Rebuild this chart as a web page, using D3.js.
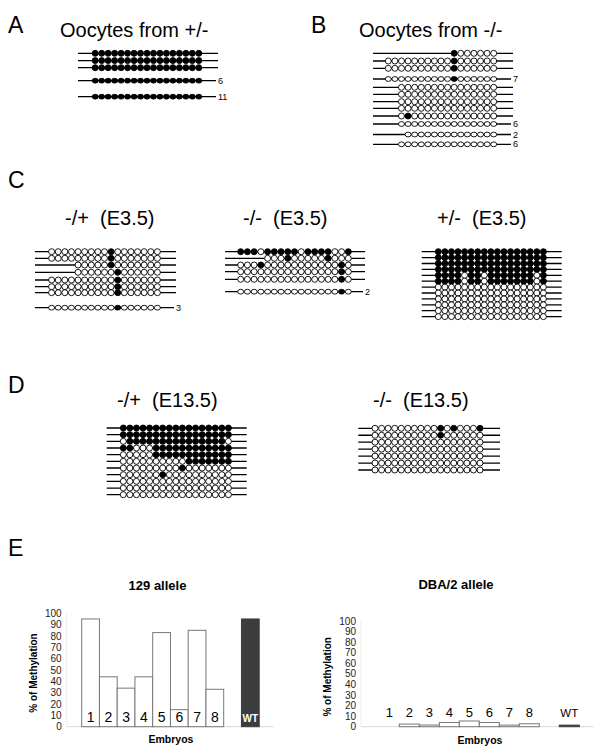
<!DOCTYPE html>
<html><head><meta charset="utf-8">
<script src="https://cdn.jsdelivr.net/npm/d3@7"></script>
<style>
body{margin:0;background:#fff}
svg{display:block}
text{font-family:"Liberation Sans",Arial,Helvetica,sans-serif}
</style>
</head><body>
<svg id="c" width="600" height="753"></svg>
<script>
// ---------------- DATA ----------------
const panelLetters = ["A", "B", "C", "D", "E"];
const panelTitles = ["Oocytes from +/-", "Oocytes from -/-", "-/+  (E3.5)", "-/-  (E3.5)", "+/-  (E3.5)", "-/+  (E13.5)", "-/-  (E13.5)"];

// '1' = methylated CpG, '0' = unmethylated CpG, '-' = not covered
const oocHetRows = [
  "11111111111111111",
  "11111111111111111",
  "11111111111111111",
  "11111111111111111",
  "11111111111111111"
];
const oocHetCounts = ["", "", "", "6", "11"];

const oocKoRows = [
  "----------1000000",
  "00000000001000000",
  "00000000001000000",
  "00000000001000000",
  "--000000000000000",
  "--000000000000000",
  "--000000000000000",
  "--000000000000000",
  "--010000000000000",
  "--000000000000000",
  "---00000000000000",
  "--000000000000000"
];
const oocKoCounts = ["", "", "", "7", "", "", "", "", "", "6", "2", "6"];

const e35MatRows = [
  "00000000010000000",
  "00000000010000000",
  "----0000010000000",
  "----0000001000000",
  "00000000001000000",
  "00000000001000000",
  "00000000001000000",
  "00000000001000000"
];
const e35MatCounts = ["", "", "", "", "", "", "", "3"];

const e35KoRows = [
  "11101111101111001",
  "----0001000001000",
  "00010000000000010",
  "00000000000000010",
  "00000000000000010",
  "00000000000000010"
];
const e35KoCounts = ["", "", "", "", "", "2"];

const e35PatRows = [
  "11111111111111111",
  "11111111111111111",
  "11111111111111111",
  "11111111111111111",
  "11110110111111101",
  "11110110111111101",
  "00000000000000000",
  "00000000000000000",
  "00000000000000000",
  "00000000000000000",
  "00000000000000000",
  "00000000000000000"
];
const e35PatCounts = ["", "", "", "", "", "", "", "", "", "", "", ""];

const e135MatRows = [
  "11111111111111111",
  "11111111111111111",
  "01111111111111110",
  "11000111111111111",
  "00000111111111111",
  "00000000001111111",
  "00000000010000000",
  "00000010000000000",
  "00000000000000000",
  "00000000000000000",
  "00000000000000000"
];
const e135MatCounts = ["", "", "", "", "", "", "", "", "", "", ""];

const e135KoRows = [
  "00000000001010001",
  "00000000001000000",
  "00000000000000000",
  "00000000000000000",
  "00000000000000000",
  "00000000000000000",
  "00000000000000000"
];
const e135KoCounts = ["", "", "", "", "", "", ""];

const embryos = ["1", "2", "3", "4", "5", "6", "7", "8", "WT"];
const methyl129 = [95, 44, 34, 44, 83, 15, 85, 33, 95];
const methylDBA = [0, 2.5, 1.6, 4, 5.4, 4, 1.5, 2.8, 1.5];
const yTickValues = [0, 10, 20, 30, 40, 50, 60, 70, 80, 90, 100];
const chartTitles = ["129 allele", "DBA/2 allele"];
const yAxisTitle = "% of Methylation";
const xAxisTitle = "Embryos";

// ---------------- DRAWING ----------------
const svg = d3.select("#c");

// panel letters
const letterPos = [[8, 33], [311, 33], [8, 188], [8, 393], [8, 556]];
svg.selectAll("text.letter").data(panelLetters).join("text")
  .attr("class", "letter")
  .attr("x", (d, i) => letterPos[i][0]).attr("y", (d, i) => letterPos[i][1])
  .attr("font-size", 23).attr("fill", "#000").text(d => d);

function lollipop(layout, rows, counts) {
  const g = svg.append("g");
  const x = d3.scaleLinear().domain([0, 16]).range(layout.cx);
  const offs = layout.offs || d3.range(rows.length).map(i => i * layout.step);
  const y = d3.scaleLinear().domain([0, 1]).range([layout.y0, layout.y0 + 1]);
  g.append("text").attr("x", layout.tx).attr("y", layout.ty)
    .attr("font-size", 20).style("white-space", "pre").text(layout.title);
  rows.forEach((r, ri) => {
    const yy = y(offs[ri]);
    const small = counts[ri] !== "";
    g.append("line").attr("x1", layout.lx[0]).attr("x2", small ? layout.lx[1] - 2 : layout.lx[1])
      .attr("y1", yy).attr("y2", yy).attr("stroke", "#000").attr("stroke-width", 1.3);
    const sites = r.split("").map((c, ci) => ({c, ci})).filter(d => d.c !== "-");
    g.selectAll(null).data(sites).join("ellipse")
      .attr("cx", d => x(d.ci)).attr("cy", yy)
      .attr("rx", 3.0).attr("ry", small ? 2.4 : 3.0)
      .attr("fill", d => d.c === "1" ? "#000" : "#fff")
      .attr("stroke", "#000").attr("stroke-width", 0.9);
    if (small) {
      g.append("text").attr("x", layout.lx[1]).attr("y", yy).attr("dy", "0.34em")
        .attr("font-size", 9).text(counts[ri]);
    }
  });
}

lollipop({title: panelTitles[0], tx: 60, ty: 37, lx: [78, 218], cx: [95.2, 198.8], y0: 53.3,
  offs: [0, 7.3, 14.4, 27.4, 43.4]}, oocHetRows, oocHetCounts);
lollipop({title: panelTitles[1], tx: 359, ty: 37, lx: [373, 513], cx: [388.3, 493.7], y0: 53.3,
  offs: [0, 7.7, 15, 25.7, 34, 41, 48.4, 55, 62.7, 70.7, 81.2, 91]}, oocKoRows, oocKoCounts);
lollipop({title: panelTitles[2], tx: 65, ty: 225, lx: [35, 176], cx: [51.6, 157.4], y0: 251.7,
  offs: [0, 6.6, 13.3, 20.6, 28.3, 35, 41, 56]}, e35MatRows, e35MatCounts);
lollipop({title: panelTitles[3], tx: 243, ty: 225, lx: [225, 365], cx: [240.7, 348.3], y0: 251.7,
  offs: [0, 6.6, 13.3, 20, 27.6, 40]}, e35KoRows, e35KoCounts);
lollipop({title: panelTitles[4], tx: 437, ty: 225, lx: [421.7, 561.7], cx: [438.3, 543.4], y0: 251.7,
  step: 5.9}, e35PatRows, e35PatCounts);
lollipop({title: panelTitles[5], tx: 117, ty: 407, lx: [106.7, 246.7], cx: [123.3, 228.4], y0: 428,
  step: 6.67}, e135MatRows, e135MatCounts);
lollipop({title: panelTitles[6], tx: 373, ty: 407, lx: [358.3, 500], cx: [375, 480], y0: 428.3,
  step: 6.95}, e135KoRows, e135KoCounts);

// ---------- Panel E bar charts ----------
function barChart(L, values, title, inside) {
  const g = svg.append("g");
  const x = d3.scaleLinear().domain([0, 10]).range(L.xr);
  const y = d3.scaleLinear().domain([0, 100]).range(L.yr);
  const bw = x(1) - x(0);
  const idx = embryos.map((e, i) => e === "WT" ? 9 : i);
  g.append("line").attr("x1", L.ax[0]).attr("x2", L.ax[1]).attr("y1", y(0)).attr("y2", y(0))
    .attr("stroke", "#d8d8d8").attr("stroke-width", 1);
  g.append("line").attr("x1", L.ax[0]).attr("x2", L.ax[0]).attr("y1", y(0)).attr("y2", y(100))
    .attr("stroke", "#ececec").attr("stroke-width", 1);
  g.selectAll("text.tick").data(yTickValues).join("text").attr("class", "tick")
    .attr("x", L.ax[0] - 5).attr("y", d => y(d)).attr("dy", "0.36em")
    .attr("text-anchor", "end").attr("font-size", 10).attr("fill", "#222").text(d => d);
  g.selectAll("rect.bar").data(values).join("rect").attr("class", "bar")
    .attr("x", (d, i) => x(idx[i])).attr("width", bw)
    .attr("y", d => y(d)).attr("height", d => y(0) - y(d))
    .attr("fill", (d, i) => embryos[i] === "WT" ? "#3c3c3c" : "#fff")
    .attr("stroke", (d, i) => embryos[i] === "WT" ? "#3c3c3c" : "#777")
    .attr("stroke-width", 1)
    .style("display", d => d > 0 ? null : "none");
  g.selectAll("text.lab").data(embryos).join("text").attr("class", "lab")
    .attr("x", (d, i) => x(idx[i]) + bw / 2).attr("y", L.labY)
    .attr("text-anchor", "middle")
    .attr("font-size", d => d === "WT" ? (inside ? 10 : 11.5) : L.labSize)
    .attr("font-weight", d => d === "WT" && inside ? "bold" : "normal")
    .attr("fill", d => d === "WT" && inside ? "#fff" : "#000")
    .text(d => d);
  g.append("text").attr("x", L.titleX).attr("y", L.titleY).attr("text-anchor", "middle")
    .attr("font-size", 13).attr("font-weight", "bold").text(title);
  g.append("text").attr("transform", `translate(${L.yTitleX},${(y(0) + y(100)) / 2 + 3}) rotate(-90)`)
    .attr("text-anchor", "middle").attr("font-size", 10).attr("font-weight", "bold").text(yAxisTitle);
  g.append("text").attr("x", L.xTitleX).attr("y", L.xTitleY).attr("text-anchor", "middle")
    .attr("font-size", 10.5).attr("font-weight", "bold").text(xAxisTitle);
}

barChart({xr: [81.7, 259.2], yr: [726.7, 613.3], ax: [66.7, 273.3], labY: 722, labSize: 14,
  titleX: 157.5, titleY: 590, yTitleX: 37, xTitleX: 171, xTitleY: 743}, methyl129, chartTitles[0], true);
barChart({xr: [379.3, 579.3], yr: [726.7, 621], ax: [361, 593.3], labY: 717, labSize: 13,
  titleX: 456, titleY: 589, yTitleX: 331, xTitleX: 480, xTitleY: 744}, methylDBA, chartTitles[1], false);
</script>
</body></html>
